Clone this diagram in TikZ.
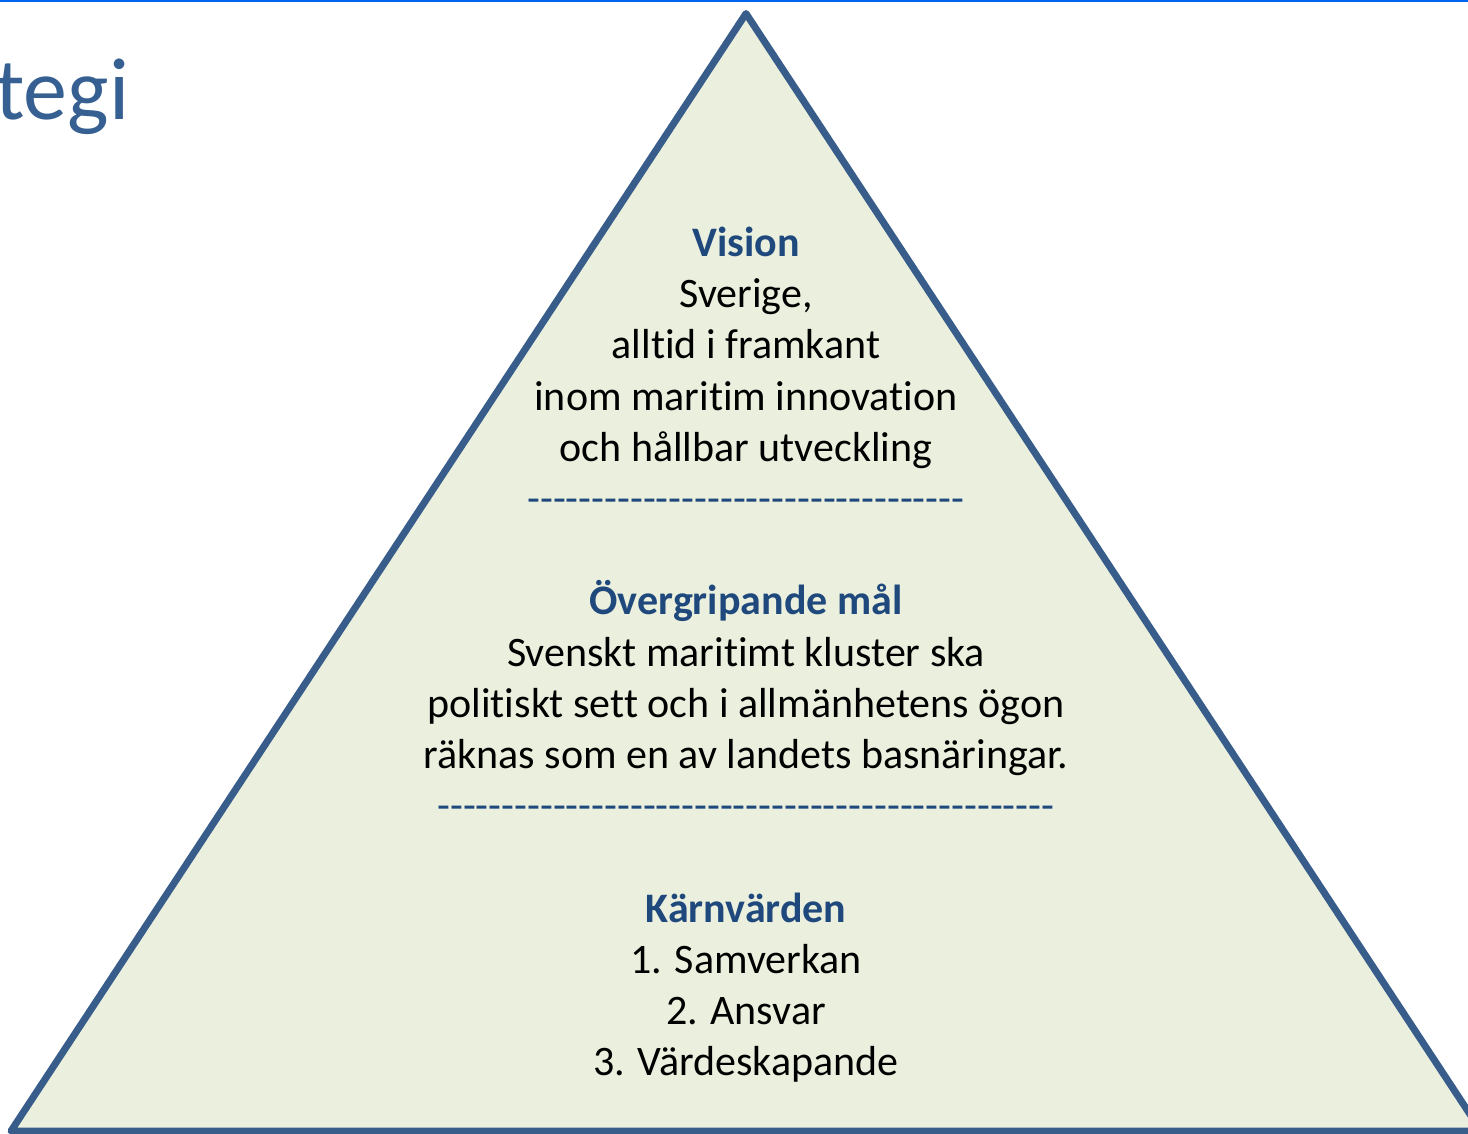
\documentclass[tikz,border=0pt]{standalone}
\usepackage{fontspec}
\defaultfontfeatures{}
\defaultfontfeatures[\rmfamily]{}
\setmainfont{Carlito}[Ligatures={NoCommon,NoContextual},Contextuals=NoAlternate]
\newcommand{\hyphrow}[1]{\foreach \i in {1,...,#1}{\mbox{-}}}
\definecolor{pyrfill}{RGB}{235,240,222}
\definecolor{pyrline}{RGB}{56,93,138}
\definecolor{headblue}{RGB}{31,73,125}
\definecolor{titleblue}{RGB}{55,96,146}
\definecolor{topline}{RGB}{0,102,240}
\begin{document}
\begin{tikzpicture}[x=0.75pt,y=-0.75pt,
  body/.style={anchor=base,inner sep=0pt,font=\fontsize{31.5}{38.4}\selectfont,text=black},
  head/.style={body,font=\fontsize{31.5}{38.4}\selectfont\bfseries,text=headblue},
  dashrow/.style={body,text=headblue},
  pyramid/.style={draw=pyrline,fill=pyrfill,line width=5.25pt,line join=round}]
\useasboundingbox (0,0) rectangle (1468,1133);
\clip (0,0) rectangle (1468,1133);
\draw[topline,line width=1.2pt] (0,0.8) -- (1468,0.8);
\node[anchor=base west,inner sep=0pt,text=titleblue,font=\fontsize{66}{72}\selectfont] (title) at (-5,119) {tegi};
\coordinate (apex) at (746,13.5);
\coordinate (bl) at (11,1131);
\coordinate (br) at (1481,1131);
\draw[pyramid] (apex) -- (br) -- (bl) -- cycle;
\node[head] (vision) at (746,256.5) {Vision};
\node[body] (v1) at (746,307.7) {Sverige,};
\node[body] (v2) at (746,358.9) {alltid i framkant};
\node[body] (v3) at (746,410.1) {inom maritim innovation};
\node[body] (v4) at (746,461.3) {och hållbar utveckling};
\node[dashrow] (d1) at (746,512.5) {\hyphrow{34}};
\node[head] (mal) at (746,614.9) {Övergripande mål};
\node[body] (m1) at (746,666.1) {Svenskt maritimt kluster ska};
\node[body] (m2) at (746,717.3) {politiskt sett och i allmänhetens ögon};
\node[body] (m3) at (746,768.5) {räknas som en av landets basnäringar.};
\node[dashrow] (d2) at (746,819.7) {\hyphrow{48}};
\node[head] (karn) at (746,922.1) {Kärnvärden};
\node[body] (k1) at (746,973.3) {1. Samverkan};
\node[body] (k2) at (746,1024.5) {2. Ansvar};
\node[body] (k3) at (746,1075.7) {3. Värdeskapande};
\end{tikzpicture}
\end{document}
